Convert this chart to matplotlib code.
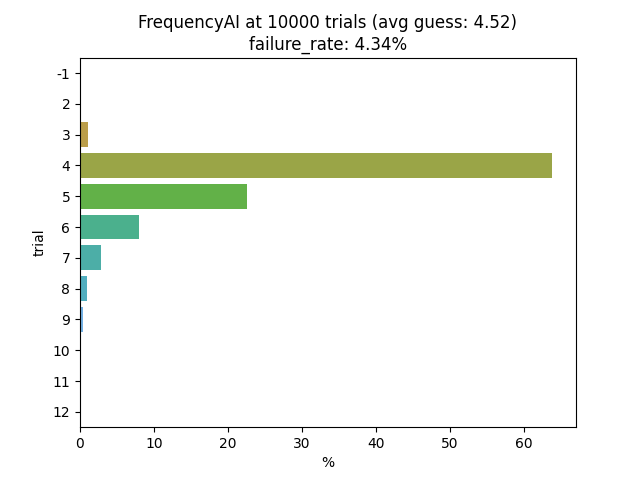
import matplotlib
matplotlib.use("Agg")
import matplotlib.pyplot as plt
import seaborn as sns
import pandas as pd

trials = ["-1", "2", "3", "4", "5", "6", "7", "8", "9", "10", "11", "12"]
percent = [0.0, 0.02, 1.1, 63.9, 22.6, 8.0, 2.85, 0.95, 0.4, 0.05, 0.01, 0.0]

df = pd.DataFrame({"trial": trials, "%": percent})

palette = sns.husl_palette(len(trials), l=0.71)

fig, ax = plt.subplots(figsize=(6.4, 4.8))
sns.barplot(data=df, x="%", y="trial", hue="trial", palette=palette,
            legend=False, orient="h", ax=ax)
ax.set_title("FrequencyAI at 10000 trials (avg guess: 4.52)\nfailure_rate: 4.34%")
fig.savefig("out.png", dpi=100)
